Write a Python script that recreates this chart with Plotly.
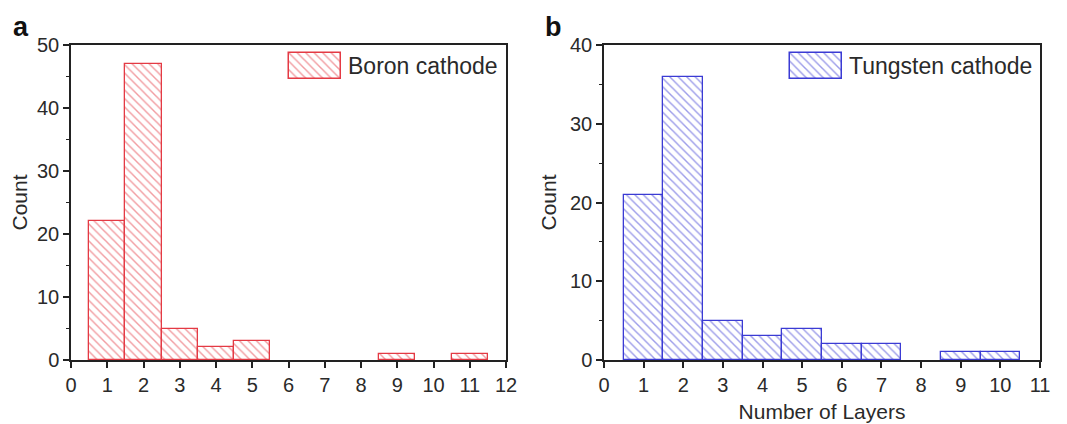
import plotly.graph_objects as go

layers_a = [1, 2, 3, 4, 5, 9, 11]
count_a = [22, 47, 5, 2, 3, 1, 1]
layers_b = [1, 2, 3, 4, 5, 6, 7, 9, 10]
count_b = [21, 36, 5, 3, 4, 2, 2, 1, 1]
name_a = "Boron cathode"
name_b = "Tungsten cathode"
xticks_a = list(range(0, 13))
xticks_b = list(range(0, 12))
yticks_a = [0, 10, 20, 30, 40, 50]
yticks_b = [0, 10, 20, 30, 40]

RED = "#e43a44"
BLUE = "#3b3bd4"
TXT = "#2a2a2a"
FONT = "Liberation Sans, Arial, sans-serif"

OFF = 8  # page body margin
W, H = 1067 - OFF, 424 - OFF
ML, MR, MT, MB = 40, 10, 25, 45


def px_x(p):
    return (p - OFF - ML) / (W - ML - MR)


def px_y(p):
    return 1 - (p - OFF - MT) / (H - MT - MB)


def pat(c):
    return dict(shape="\\", fgcolor=c, bgcolor="white", size=6, solidity=0.24, fillmode="overlay")


fig = go.Figure()
fig.add_trace(go.Bar(x=layers_a, y=count_a, width=1, name=name_a, xaxis="x", yaxis="y",
                     marker=dict(color="white", line=dict(color=RED, width=1.3), pattern=pat(RED)),
                     showlegend=False))
fig.add_trace(go.Bar(x=layers_b, y=count_b, width=1, name=name_b, xaxis="x2", yaxis="y2",
                     marker=dict(color="white", line=dict(color=BLUE, width=1.3), pattern=pat(BLUE)),
                     showlegend=False))
# legend swatches
fig.add_trace(go.Bar(x=[0.5], y=[1], width=1, xaxis="x3", yaxis="y3", hoverinfo="skip",
                     marker=dict(color="white", line=dict(color=RED, width=1.5), pattern=pat(RED)),
                     showlegend=False))
fig.add_trace(go.Bar(x=[0.5], y=[1], width=1, xaxis="x4", yaxis="y4", hoverinfo="skip",
                     marker=dict(color="white", line=dict(color=BLUE, width=1.5), pattern=pat(BLUE)),
                     showlegend=False))

axis_common = dict(
    showline=True, linecolor="#222", linewidth=1.5, mirror=True,
    ticks="outside", ticklen=6, tickwidth=1.5, tickcolor="#222",
    showgrid=False, zeroline=False, automargin=False,
    tickfont=dict(size=20, color=TXT, family=FONT),
)
minor_y = dict(ticks="outside", ticklen=3, tickwidth=1, tickcolor="#222", dtick=5, showgrid=False)
title_font = dict(size=21, family=FONT, color=TXT)
hidden_x = dict(visible=False, range=[-0.04, 1.04], fixedrange=True, automargin=False)
hidden_y = dict(visible=False, range=[-0.08, 1.08], fixedrange=True, automargin=False)

ydom = [px_y(360), px_y(45)]

fig.update_layout(
    width=W, height=H,
    margin=dict(l=ML, r=MR, t=MT, b=MB),
    paper_bgcolor="white", plot_bgcolor="rgba(0,0,0,0)",
    font=dict(family=FONT, color=TXT),
    showlegend=False,
    bargap=0,
    xaxis=dict(domain=[px_x(71), px_x(506)], range=[0, 12], tickvals=xticks_a, anchor="y", **axis_common),
    yaxis=dict(domain=ydom, range=[0, 50], tickvals=yticks_a, anchor="x",
               title=dict(text="Count", font=title_font, standoff=8),
               minor=minor_y, **axis_common),
    xaxis2=dict(domain=[px_x(604), px_x(1040)], range=[0, 11], tickvals=xticks_b, anchor="y2",
                title=dict(text="Number of Layers", font=title_font, standoff=10),
                **axis_common),
    yaxis2=dict(domain=ydom, range=[0, 40], tickvals=yticks_b, anchor="x2",
                title=dict(text="Count", font=title_font, standoff=8),
                minor=minor_y, **axis_common),
    xaxis3=dict(domain=[px_x(287), px_x(343)], anchor="y3", **hidden_x),
    yaxis3=dict(domain=[px_y(81), px_y(51)], anchor="x3", **hidden_y),
    xaxis4=dict(domain=[px_x(788), px_x(844)], anchor="y4", **hidden_x),
    yaxis4=dict(domain=[px_y(81), px_y(51)], anchor="x4", **hidden_y),
    annotations=[
        dict(text="<b>a</b>", x=px_x(11), y=px_y(10), xref="paper", yref="paper", xanchor="left", yanchor="top",
             showarrow=False, font=dict(size=27, family=FONT, color="#111")),
        dict(text="<b>b</b>", x=px_x(543), y=px_y(10), xref="paper", yref="paper", xanchor="left", yanchor="top",
             showarrow=False, font=dict(size=27, family=FONT, color="#111")),
        dict(text=name_a, x=px_x(346), y=px_y(66), xref="paper", yref="paper", xanchor="left", yanchor="middle",
             showarrow=False, font=dict(size=23, family=FONT, color=TXT)),
        dict(text=name_b, x=px_x(847), y=px_y(66), xref="paper", yref="paper", xanchor="left", yanchor="middle",
             showarrow=False, font=dict(size=23, family=FONT, color=TXT)),
    ],
)

fig.write_html("out.html")
